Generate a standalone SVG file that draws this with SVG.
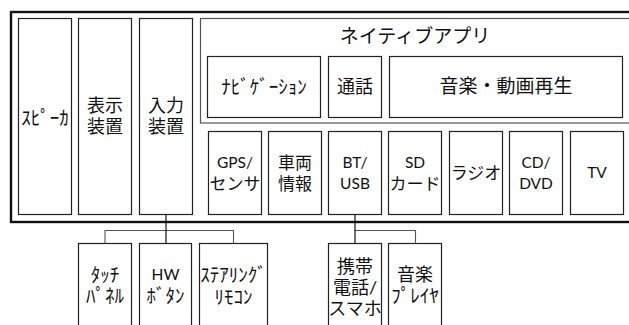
<svg xmlns="http://www.w3.org/2000/svg" width="629" height="325" viewBox="0 0 629 325">
<style>
.box{fill:#fff;stroke:#222;stroke-width:1.2}
.gbox{fill:none;stroke:#555;stroke-width:1.2}
.outer{fill:none;stroke:#111;stroke-width:2.4}
text{font-family:"Lato","Noto Sans CJK JP",sans-serif;font-size:17px;fill:#111;text-anchor:middle;dominant-baseline:central}
.big{font-size:19px}
.jp{font-size:18px}
.hw{font-size:19px}
.lat{font-size:15.5px}
.trunk{fill:none;stroke:#111;stroke-width:1.2}
.branch{fill:none;stroke:#555;stroke-width:1.1}
</style>
<rect width="629" height="325" fill="#fff"/>
<rect class="outer" x="11" y="12" width="640" height="210"/>
<g id="native-app">
<rect class="gbox" x="200.5" y="18.5" width="440" height="104.5"/>
<text class="big" x="415" y="35">ネイティブアプリ</text>
</g>
<g id="speaker"><rect class="box" x="18.5" y="18.5" width="53" height="196"/><text class="hw" x="45" y="117">ｽﾋﾟｰｶ</text></g>
<g id="display"><rect class="box" x="78.5" y="18.5" width="53" height="196"/><text class="jp" x="105" y="105">表示</text><text class="jp" x="105" y="126">装置</text></g>
<g id="input"><rect class="box" x="139.5" y="18.5" width="53" height="196"/><text class="jp" x="166" y="105">入力</text><text class="jp" x="166" y="126">装置</text></g>
<g id="navi"><rect class="box" x="207.5" y="56.5" width="113" height="61"/><text class="big" x="264" y="86">ﾅﾋﾞｹﾞｰｼｮﾝ</text></g>
<g id="call"><rect class="box" x="328.5" y="56.5" width="53" height="61"/><text class="jp" x="355" y="86">通話</text></g>
<g id="media"><rect class="box" x="389.5" y="56.5" width="233" height="61"/><text class="big" x="506" y="85">音楽・動画再生</text></g>
<g id="gps"><rect class="box" x="208.5" y="131.5" width="53" height="83"/><text class="lat" x="235" y="162">GPS/</text><text x="235" y="183">センサ</text></g>
<g id="vehicle"><rect class="box" x="268.5" y="131.5" width="53" height="83"/><text x="295" y="162">車両</text><text x="295" y="183">情報</text></g>
<g id="bt-usb"><rect class="box" x="328.5" y="131.5" width="53" height="83"/><text class="lat" x="355" y="162">BT/</text><text class="lat" x="355" y="183">USB</text></g>
<g id="sd"><rect class="box" x="388.5" y="131.5" width="53" height="83"/><text class="lat" x="415" y="162">SD</text><text x="415" y="183">カード</text></g>
<g id="radio"><rect class="box" x="449.5" y="131.5" width="53" height="83"/><text x="476" y="172">ラジオ</text></g>
<g id="cd-dvd"><rect class="box" x="509.5" y="131.5" width="53" height="83"/><text class="lat" x="536" y="162">CD/</text><text class="lat" x="536" y="183">DVD</text></g>
<g id="tv"><rect class="box" x="570.5" y="131.5" width="53" height="83"/><text class="lat" x="597" y="172">TV</text></g>
<g id="touch"><rect class="box" x="78.5" y="243.5" width="53" height="100"/><text class="hw" x="105" y="274">ﾀｯﾁ</text><text class="hw" x="105" y="295">ﾊﾟﾈﾙ</text></g>
<g id="hw-button"><rect class="box" x="139.5" y="243.5" width="52" height="100"/><text class="lat" x="165.5" y="274">HW</text><text class="hw" x="165.5" y="295">ﾎﾞﾀﾝ</text></g>
<g id="steering"><rect class="box" x="199.5" y="243.5" width="68" height="100"/><text class="hw" x="233.5" y="274">ｽﾃｱﾘﾝｸﾞ</text><text class="hw" x="233.5" y="296">ﾘﾓｺﾝ</text></g>
<g id="phone"><rect class="box" x="328.5" y="243.5" width="53" height="100"/><text class="jp" x="355" y="266">携帯</text><text class="jp" x="355" y="287">電話/</text><text class="jp" x="355" y="308">スマホ</text></g>
<g id="player"><rect class="box" x="388.5" y="243.5" width="53" height="100"/><text class="jp" x="415" y="274">音楽</text><text class="hw" x="415" y="295">ﾌﾟﾚｲﾔ</text></g>
<g id="connectors">
<path class="branch" d="M105 243.5V230.5H233.5V243.5"/>
<path class="trunk" d="M166 214.5V243.5"/>
<path class="branch" d="M355 230.5H415.5V243.5"/>
<path class="trunk" d="M355 214.5V243.5"/>
</g>
</svg>
